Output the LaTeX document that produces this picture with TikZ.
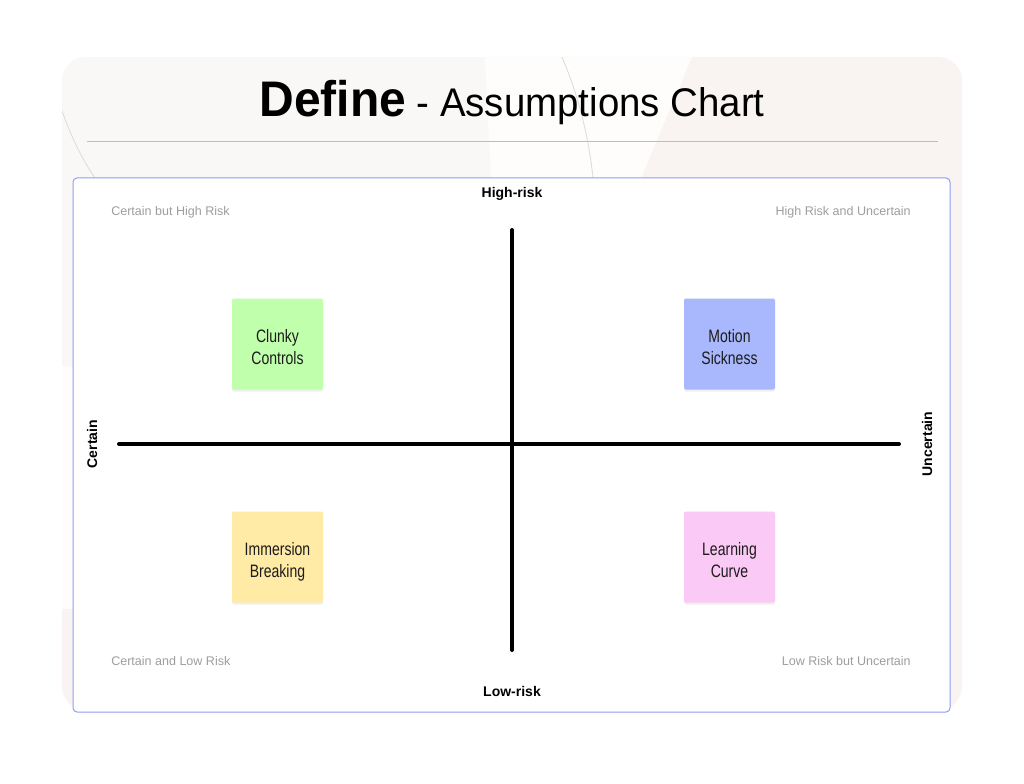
\documentclass[tikz,border=0pt]{standalone}
\usepackage{fontspec}
\setmainfont{Liberation Sans}
\newfontfamily\titlefont[FakeStretch=0.96]{Liberation Sans}
\newfontfamily\notefont[FakeStretch=0.78]{Liberation Sans}
\usepackage{tikz}
\usetikzlibrary{shadows}
\definecolor{PanelBeige}{HTML}{FAF8F6}
\definecolor{PanelRose}{HTML}{F9F4F2}
\definecolor{PanelLight}{HTML}{FEFDFC}
\definecolor{CurveGray}{HTML}{DEDAD5}
\definecolor{RuleGray}{HTML}{BDBDBD}
\definecolor{FrameBlue}{HTML}{8C9EF7}
\definecolor{LabelGray}{HTML}{9E9E9E}
\definecolor{NoteText}{HTML}{1C1C1C}
\definecolor{NoteGreen}{HTML}{C0FFAB}
\definecolor{NoteBlue}{HTML}{A9B8FD}
\definecolor{NoteYellow}{HTML}{FFEAA6}
\definecolor{NotePink}{HTML}{FBC9F6}

\tikzset{
  sticky/.style={minimum width=68.25pt, minimum height=68.25pt, inner sep=0pt,
    rounded corners=1.5pt,
    drop shadow={opacity=0.12, shadow xshift=0pt, shadow yshift=-1.5pt}},
  notetext/.style={align=center, inner sep=0pt, text=NoteText,
    font=\notefont\fontsize{13.5}{16.5}\selectfont},
  axislabel/.style={font=\fontsize{10.5}{12}\selectfont\bfseries},
  cornerlabel/.style={font=\fontsize{9.4}{11}\selectfont, text=LabelGray, inner sep=0pt},
  axisline/.style={line width=3pt, line cap=round, black},
}
\newcommand{\notelines}[2]{\strut#1\\\strut#2}

\begin{document}
\begin{tikzpicture}[x=0.75pt, y=-0.75pt]
  \useasboundingbox (0,0) rectangle (1024,784);
  \fill[white] (0,0) rectangle (1024,784);

  % background panel
  \begin{scope}
    \clip[rounded corners=18pt] (62,57) rectangle (962,710);
    \fill[PanelBeige] (62,57) rectangle (962,710);
    \fill[PanelRose] (692,57) -- (962,57) -- (962,710) -- (380,710) -- cycle;
    \fill[PanelLight] (485,57) -- (692,57) -- (641,178) -- (491,178) -- cycle;
    \fill[PanelLight, rounded corners=10pt] (50,366) rectangle (80,609);
    \fill[PanelRose] (62,609) rectangle (80,710);
    \draw[CurveGray, line width=0.6pt] (61,108) .. controls (72,140) and (84,162) .. (95,178);
    \draw[CurveGray, line width=0.6pt] (562,57) .. controls (576,90) and (588,130) .. (593,178);
  \end{scope}

  % title
  \node[anchor=base, inner sep=0pt] (title) at (512,117)
    {{\titlefont\fontsize{37.5}{40}\selectfont\bfseries Define}%
     {\titlefont\fontsize{30}{34}\selectfont\ - Assumptions Chart}};
  \draw[RuleGray, line width=0.75pt] (87,142) -- (938,142);

  % chart frame
  \draw[FrameBlue, fill=white, line width=0.75pt, rounded corners=3pt] (73,178) rectangle (950,712);

  \node[axislabel] (high) at (512,194) {High-risk};
  \node[axislabel] (low) at (512,691) {Low-risk};
  \node[axislabel, rotate=90] (certain) at (92,444) {Certain};
  \node[axislabel, rotate=90] (uncertain) at (927,444) {Uncertain};

  \node[cornerlabel, anchor=west] (tl) at (111,212.5) {Certain but High Risk};
  \node[cornerlabel, anchor=east] (tr) at (911,212.5) {High Risk and Uncertain};
  \node[cornerlabel, anchor=west] (bl) at (111,661) {Certain and Low Risk};
  \node[cornerlabel, anchor=east] (br) at (911,661) {Low Risk but Uncertain};

  % axes
  \coordinate (xl) at (119,444);
  \coordinate (xr) at (899,444);
  \coordinate (yt) at (512,230);
  \coordinate (yb) at (512,650);
  \draw[axisline] (xl) -- (xr);
  \draw[axisline] (yt) -- (yb);

  % sticky notes
  \node[sticky, fill=NoteGreen] (clunky) at (277.5,344) {};
  \node[sticky, fill=NoteBlue] (motion) at (729.5,344) {};
  \node[sticky, fill=NoteYellow] (immersion) at (277.5,557) {};
  \node[sticky, fill=NotePink] (learning) at (729.5,557) {};
  \node[notetext] (clunkytext) at ([yshift=-3.75pt]clunky.center) {\notelines{Clunky}{Controls}};
  \node[notetext] (motiontext) at ([yshift=-3.75pt]motion.center) {\notelines{Motion}{Sickness}};
  \node[notetext] (immersiontext) at ([yshift=-3.75pt]immersion.center) {\notelines{Immersion}{Breaking}};
  \node[notetext] (learningtext) at ([yshift=-3.75pt]learning.center) {\notelines{Learning}{Curve}};
\end{tikzpicture}
\end{document}
